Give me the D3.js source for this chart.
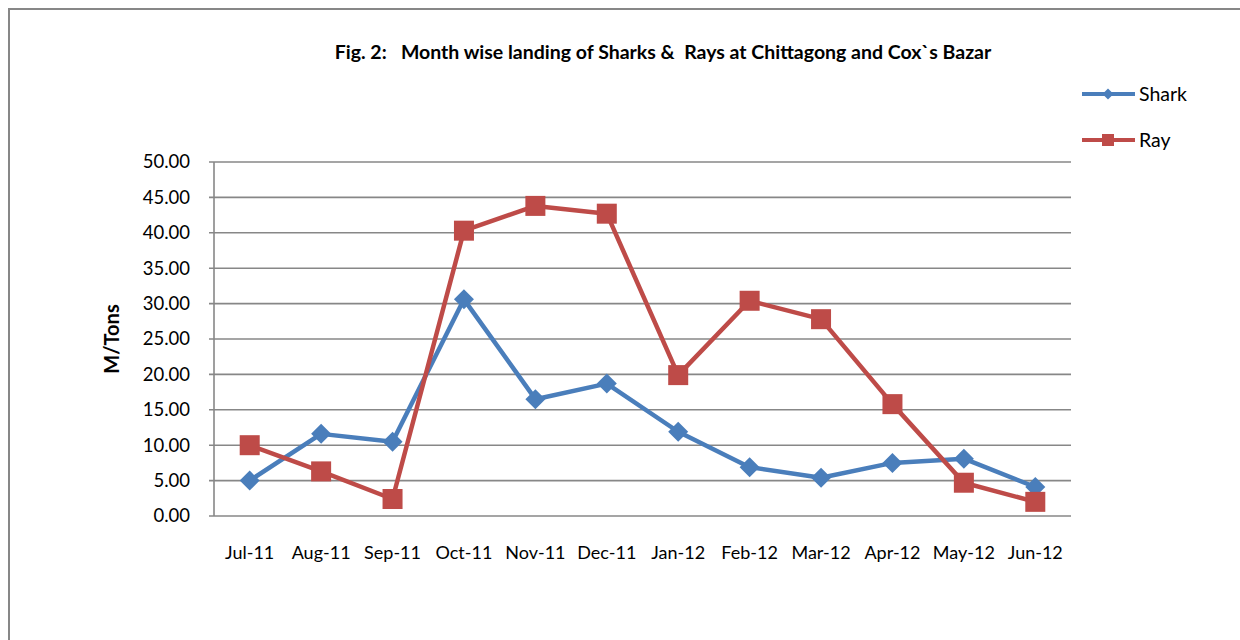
<!DOCTYPE html>
<html>
<head>
<meta charset="utf-8">
<script src="https://cdn.jsdelivr.net/npm/d3@7"></script>
<style>
  body { margin: 0; background: #fff; }
  text { font-family: Lato, "Open Sans", sans-serif; fill: #000; }
</style>
</head>
<body>
<div id="chart"></div>
<script>
const months = ["Jul-11", "Aug-11", "Sep-11", "Oct-11", "Nov-11", "Dec-11",
  "Jan-12", "Feb-12", "Mar-12", "Apr-12", "May-12", "Jun-12"];
const shark = [5.0, 11.6, 10.5, 30.6, 16.5, 18.7, 11.9, 6.9, 5.4, 7.5, 8.1, 4.1];
const ray = [10.0, 6.3, 2.4, 40.3, 43.8, 42.7, 19.9, 30.4, 27.8, 15.8, 4.7, 2.0];
const yTicks = [0, 5, 10, 15, 20, 25, 30, 35, 40, 45, 50];

let width = 1240, height = 640;
let plot = { left: 214, right: 1071, top: 162, bottom: 516 };

let svg = d3.select("#chart").append("svg").attr("width", width).attr("height", height);

// outer frame
svg.append("rect")
  .attr("x", 9).attr("y", 9)
  .attr("width", 1300).attr("height", 700)
  .attr("fill", "none").attr("stroke", "#878787").attr("stroke-width", 2);

let x = d3.scaleBand().domain(months).range([plot.left, plot.right]);
let y = d3.scaleLinear().domain([0, 50]).range([plot.bottom, plot.top]);

// gridlines
svg.append("g")
  .selectAll("line")
  .data(yTicks)
  .enter().append("line")
  .attr("x1", plot.left - 5).attr("x2", plot.right)
  .attr("y1", function(d) { return y(d); })
  .attr("y2", function(d) { return y(d); })
  .attr("stroke", "#878787").attr("stroke-width", 1.6);

// y axis line
svg.append("line")
  .attr("x1", plot.left).attr("x2", plot.left)
  .attr("y1", plot.top).attr("y2", plot.bottom)
  .attr("stroke", "#878787").attr("stroke-width", 1.6);

// y tick labels
svg.append("g")
  .selectAll("text")
  .data(yTicks)
  .enter().append("text")
  .attr("x", 190)
  .attr("y", function(d) { return y(d); })
  .attr("dy", "0.35em")
  .attr("text-anchor", "end")
  .style("font-size", "18.5px")
  .text(function(d) { return d3.format(".2f")(d); });

// x labels
svg.append("g")
  .selectAll("text")
  .data(months)
  .enter().append("text")
  .attr("x", function(d) { return x(d) + x.bandwidth() / 2; })
  .attr("y", 559)
  .attr("text-anchor", "middle")
  .style("font-size", "18px")
  .text(function(d) { return d; });

// title
svg.append("text")
  .attr("x", 663).attr("y", 59)
  .attr("text-anchor", "middle")
  .attr("xml:space", "preserve")
  .style("font-size", "19.5px").style("font-weight", "bold")
  .style("white-space", "pre")
  .text("Fig. 2:   Month wise landing of Sharks &  Rays at Chittagong and Cox`s Bazar");

// y axis title
svg.append("text")
  .attr("transform", "translate(119,339) rotate(-90)")
  .attr("text-anchor", "middle")
  .style("font-size", "20px").style("font-weight", "bold")
  .text("M/Tons");

let series = [
  { name: "Shark", values: shark, color: "#4a7ebb", marker: "diamond" },
  { name: "Ray", values: ray, color: "#be4b48", marker: "square" }
];

let line = d3.line()
  .x(function(d, i) { return x(months[i]) + x.bandwidth() / 2; })
  .y(function(d) { return y(d); });

function drawMarker(g, type, color) {
  if (type === "square") {
    g.append("rect")
      .attr("x", -10).attr("y", -10).attr("width", 20).attr("height", 20)
      .attr("fill", color);
  } else {
    g.append("path")
      .attr("d", "M0,-10L10,0L0,10L-10,0Z")
      .attr("fill", color);
  }
}

series.forEach(function(s, k) {
  svg.append("path")
    .attr("d", line(s.values))
    .attr("fill", "none")
    .attr("stroke", s.color)
    .attr("stroke-width", 4.5)
    .attr("stroke-linejoin", "round");

  s.values.forEach(function(v, i) {
    let g = svg.append("g")
      .attr("transform", "translate(" + (x(months[i]) + x.bandwidth() / 2) + "," + y(v) + ")");
    drawMarker(g, s.marker, s.color);
  });

  // legend
  let ly = 94 + k * 46;
  svg.append("line")
    .attr("x1", 1082).attr("x2", 1135)
    .attr("y1", ly).attr("y2", ly)
    .attr("stroke", s.color).attr("stroke-width", 4);
  let lg = svg.append("g").attr("transform", "translate(1108," + ly + ")");
  if (s.marker === "square") {
    lg.append("rect").attr("x", -6).attr("y", -6).attr("width", 12).attr("height", 12).attr("fill", s.color);
  } else {
    lg.append("path").attr("d", "M0,-5.5L5.5,0L0,5.5L-5.5,0Z").attr("fill", s.color);
  }
  svg.append("text")
    .attr("x", 1139).attr("y", ly)
    .attr("dy", "0.35em")
    .style("font-size", "19.5px")
    .text(s.name);
});
</script>
</body>
</html>
